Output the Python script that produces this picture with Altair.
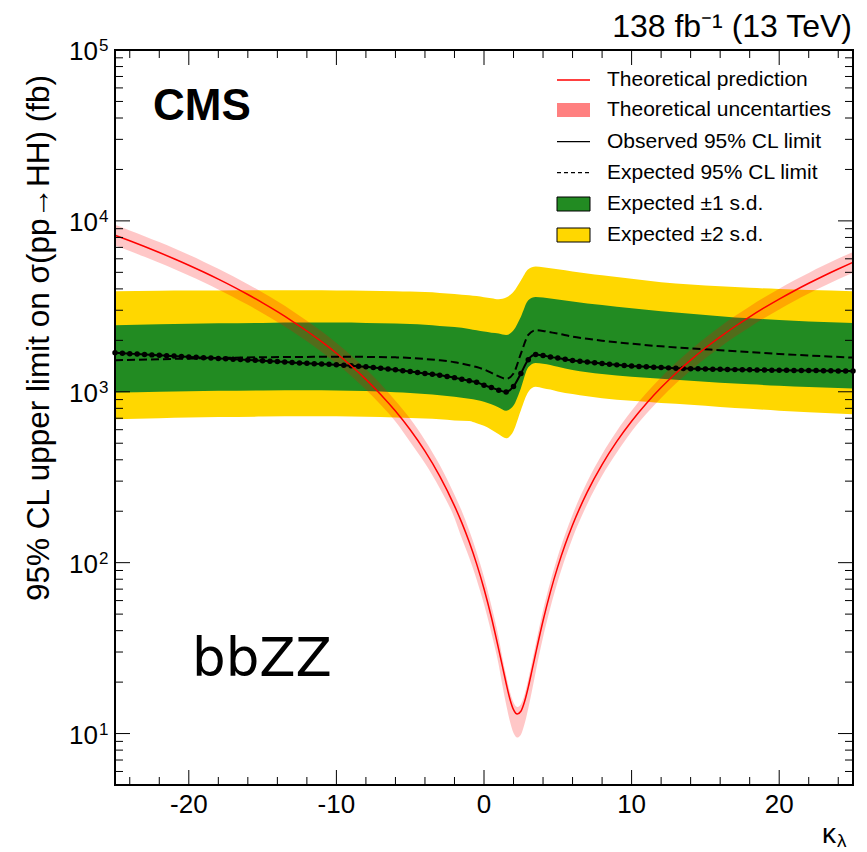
import altair as alt
import pandas as pd

# ---------------- data ----------------
# Theory (ggF HH cross section vs kappa_lambda), fb
theory_kl = [-25, -24, -23, -22, -21, -20, -19, -18, -17, -16, -15, -14, -13, -12, -11, -10,
             -9, -8, -7, -6, -5, -4, -3, -2, -1.5, -1, -0.5, 0, 0.5, 1,
             1.25, 1.5, 1.75, 2, 2.25, 2.5, 2.75, 3, 3.25, 3.5,
             4, 4.5, 5, 5.5, 6, 7, 8, 9, 10, 11, 12, 13, 14, 15, 16, 17, 18, 19, 20,
             21, 22, 23, 24, 25]
theory_xs = [8243, 7651, 7081, 6532, 6006, 5503, 5021, 4561, 4124, 3708, 3315, 2944, 2595, 2268,
             1963, 1680, 1420, 1182, 965, 771, 599, 449, 321, 215, 170.9, 131.9, 98.4, 70.4,
             47.9, 31.0, 24.7, 19.7, 16.0, 13.8, 13.0, 13.5, 15.4, 18.7, 23.4, 29.4,
             45.7, 67.5, 94.8, 127.7, 166.1, 259.5, 374.9, 512.6, 672.3, 854.1, 1058, 1284,
             1532, 1803, 2095, 2410, 2746, 3105, 3486, 3889, 4314, 4762, 5231, 5723]
theory_unc_up = [0.15] * 20 + [0.16] * 4 + [0.17] * 6 + \
    [0.12, 0.11, 0.10, 0.10, 0.10, 0.10, 0.10, 0.11, 0.12, 0.13] + [0.15] * 5 + [0.15] * 19
theory_unc_dn = [0.13] * 20 + [0.15] * 4 + [0.19] * 6 + \
    [0.23, 0.25, 0.26, 0.27, 0.27, 0.27, 0.26, 0.25, 0.24, 0.22] + \
    [0.20, 0.19, 0.18, 0.17, 0.16] + [0.15, 0.14, 0.14, 0.13] + [0.13] * 15

# Expected limit and bands, fb
band_kl = [-25, -22, -20, -18, -15, -12, -10, -8, -6, -5, -4, -3, -2, -1, -0.5, 0, 0.5, 1, 1.5, 2,
           2.5, 3, 3.5, 4, 4.5, 5, 6, 7, 8, 10, 12, 14, 16, 18, 20, 22, 25]
exp_2up = [3880, 3900, 3910, 3920, 3925, 3925, 3920, 3905, 3880, 3860, 3830, 3790, 3740, 3670, 3630,
           3580, 3530, 3480, 3560, 3845, 4480, 5220, 5400, 5350, 5280, 5210, 5060, 4920, 4800, 4580,
           4380, 4250, 4150, 4060, 3990, 3940, 3880]
exp_1up = [2450, 2480, 2500, 2515, 2530, 2540, 2540, 2530, 2510, 2490, 2465, 2430, 2390, 2330, 2290,
           2250, 2215, 2195, 2150, 2290, 2750, 3435, 3590, 3560, 3520, 3470, 3370, 3290, 3220, 3080,
           2960, 2860, 2770, 2690, 2630, 2580, 2530]
exp_central = [1530, 1550, 1565, 1578, 1592, 1600, 1603, 1600, 1590, 1578, 1555, 1528, 1490, 1430,
               1395, 1350, 1290, 1230, 1190, 1280, 1673, 2150, 2290, 2270, 2230, 2190, 2100, 2040,
               1990, 1910, 1845, 1795, 1750, 1705, 1665, 1630, 1585]
exp_1dn = [990, 1000, 1008, 1013, 1018, 1020, 1018, 1010, 995, 985, 970, 955, 935, 910, 895, 875,
           845, 810, 775, 830, 1050, 1390, 1475, 1460, 1435, 1400, 1340, 1300, 1270, 1225, 1190,
           1160, 1130, 1105, 1085, 1065, 1045]
exp_2dn = [690, 700, 706, 711, 716, 719, 718, 714, 707, 702, 697, 690, 680, 675, 655, 632, 600,
           565, 535, 590, 780, 998, 1069, 1050, 1030, 1005, 970, 940, 915, 885, 860, 840, 815, 795,
           775, 760, 740]

# Observed limit (points every 0.5 in kappa_lambda), fb
obs_kl = [-25 + 0.5 * i for i in range(101)]
obs_limit = [1690, 1680, 1671, 1662, 1653, 1644, 1635, 1626, 1617, 1608,
             1600, 1592, 1584, 1576, 1568, 1560, 1552, 1544, 1536, 1528,
             1520, 1511, 1502, 1493, 1484, 1475, 1468, 1461, 1454, 1447,
             1440, 1430, 1420, 1410, 1400, 1387, 1373, 1359, 1345, 1329,
             1313, 1297, 1280, 1265, 1250, 1230, 1210, 1185, 1160, 1136,
             1093, 1059, 1021, 998, 1075, 1280, 1542, 1650, 1628, 1600,
             1574, 1548, 1525, 1508, 1492, 1477, 1462, 1449, 1437, 1426,
             1415, 1407, 1399, 1392, 1385, 1380, 1375, 1370, 1365, 1362,
             1359, 1356, 1353, 1350, 1348, 1346, 1344, 1342, 1340, 1338,
             1336, 1335, 1334, 1333, 1331, 1330, 1328, 1327, 1325, 1324, 1322]

# Axis ticks and labels
x_major = [-20, -10, 0, 10, 20]
x_minor = [-24, -22, -18, -16, -14, -12, -8, -6, -4, -2, 2, 4, 6, 8, 12, 14, 16, 18, 22, 24]
x_labels = ["-20", "-10", "0", "10", "20"]
y_major = [10, 100, 1000, 10000]
y_minor = [m * 10 ** e for e in range(0, 5) for m in range(2, 10) if m * 10 ** e > 5]
y_label_vals = [10, 100, 1000, 10000, 100000]
y_label_exp = ["1", "2", "3", "4", "5"]

legend_labels = ["Theoretical prediction", "Theoretical uncentarties", "Observed 95% CL limit",
                 "Expected 95% CL limit", "Expected \u00b11 s.d.", "Expected \u00b12 s.d."]

# ---------------- chart ----------------
W, H = 738, 735
FONT = "Liberation Sans"
xs = alt.Scale(domain=[-25, 25], nice=False, zero=False)
ys = alt.Scale(type="log", domain=[5, 100000], nice=False)


def X(f):
    return alt.X(f, type="quantitative", scale=xs, axis=None)


def Y(f):
    return alt.Y(f, type="quantitative", scale=ys, axis=None)


band_df = pd.DataFrame({"kl": band_kl, "u2": exp_2up, "u1": exp_1up, "c": exp_central,
                        "d1": exp_1dn, "d2": exp_2dn})
th_df = pd.DataFrame({"kl": theory_kl, "xs": theory_xs,
                      "hi": [v * (1 + u) for v, u in zip(theory_xs, theory_unc_up)],
                      "lo": [v * (1 - d) for v, d in zip(theory_xs, theory_unc_dn)]})
obs_df = pd.DataFrame({"kl": obs_kl, "obs": obs_limit})

layers = []
layers.append(alt.Chart(band_df).mark_area(color="#FFD700", interpolate="monotone")
              .encode(x=X("kl"), y=Y("u2"), y2=alt.Y2("d2")))
layers.append(alt.Chart(band_df).mark_area(color="#228B22", interpolate="monotone")
              .encode(x=X("kl"), y=Y("u1"), y2=alt.Y2("d1")))
layers.append(alt.Chart(th_df).mark_area(color="#ff0000", opacity=0.22, interpolate="monotone")
              .encode(x=X("kl"), y=Y("hi"), y2=alt.Y2("lo")))
layers.append(alt.Chart(band_df).mark_line(color="black", strokeWidth=2, strokeDash=[8, 4],
                                           interpolate="monotone")
              .encode(x=X("kl"), y=Y("c")))
layers.append(alt.Chart(obs_df).mark_line(color="black", strokeWidth=2, interpolate="monotone")
              .encode(x=X("kl"), y=Y("obs")))
layers.append(alt.Chart(obs_df).mark_circle(color="black", size=30, opacity=1)
              .encode(x=X("kl"), y=Y("obs")))
layers.append(alt.Chart(th_df).mark_line(color="#ff0000", strokeWidth=1.5, interpolate="monotone")
              .encode(x=X("kl"), y=Y("xs")))

# ticks (inside, on all four sides)
MAJ, MIN = 15, 8
xmaj_df = pd.DataFrame({"v": x_major})
xmin_df = pd.DataFrame({"v": x_minor})
ymaj_df = pd.DataFrame({"v": y_major})
ymin_df = pd.DataFrame({"v": y_minor})
for df, L in ((xmaj_df, MAJ), (xmin_df, MIN)):
    layers.append(alt.Chart(df).mark_rule(color="black", strokeWidth=1)
                  .encode(x=X("v"), y=alt.value(H), y2=alt.value(H - L)))
    layers.append(alt.Chart(df).mark_rule(color="black", strokeWidth=1)
                  .encode(x=X("v"), y=alt.value(0), y2=alt.value(L)))
for df, L in ((ymaj_df, MAJ), (ymin_df, MIN)):
    layers.append(alt.Chart(df).mark_rule(color="black", strokeWidth=1)
                  .encode(y=Y("v"), x=alt.value(0), x2=alt.value(L)))
    layers.append(alt.Chart(df).mark_rule(color="black", strokeWidth=1)
                  .encode(y=Y("v"), x=alt.value(W), x2=alt.value(W - L)))

# tick labels
xl_df = pd.DataFrame({"v": x_major, "t": x_labels})
layers.append(alt.Chart(xl_df).mark_text(font=FONT, fontSize=26, align="center",
                                         baseline="alphabetic", color="black")
              .encode(x=X("v"), y=alt.value(H + 28), text="t:N"))
yl_df = pd.DataFrame({"v": y_label_vals, "e": y_label_exp, "b": ["10"] * 5})
layers.append(alt.Chart(yl_df).mark_text(font=FONT, fontSize=26, align="right",
                                         baseline="alphabetic", color="black", dy=10)
              .encode(y=Y("v"), x=alt.value(-17), text="b:N"))
layers.append(alt.Chart(yl_df).mark_text(font=FONT, fontSize=17, align="left",
                                         baseline="alphabetic", color="black", dy=1)
              .encode(y=Y("v"), x=alt.value(-16), text="e:N"))

one = pd.DataFrame({"a": [0]})


def txt(s, x, y, **kw):
    return alt.Chart(pd.DataFrame({"t": [s]})).mark_text(**kw).encode(
        x=alt.value(x), y=alt.value(y), text="t:N")


# titles / annotations
layers.append(txt("95% CL upper limit on \u03c3(pp\u2192HH) (fb)", -66, 25, font=FONT, fontSize=31.5,
                  angle=270, align="right", baseline="alphabetic", color="black"))
layers.append(txt("\u03ba", 721, 793, font=FONT, fontSize=28, align="right",
                  baseline="alphabetic", color="black"))
layers.append(txt("\u03bb", 722, 797, font=FONT, fontSize=19, align="left",
                  baseline="alphabetic", color="black"))
layers.append(txt("138 fb\u207b\u00b9 (13 TeV)", 737, -13, font=FONT, fontSize=32, align="right",
                  baseline="alphabetic", color="black"))
layers.append(txt("CMS", 38, 70, font=FONT, fontSize=44, fontWeight="bold", align="left",
                  baseline="alphabetic", color="black"))
layers.append(txt("bbZZ", 77, 626, font="DejaVu Sans", fontSize=53, align="left",
                  baseline="alphabetic", color="black"))

# legend
LX0, LX1, LT = 442, 475, 492
rows = [30, 60, 91.7, 122.7, 154, 185]
layers.append(alt.Chart(one).mark_rule(color="#ff0000", strokeWidth=1.5)
              .encode(x=alt.value(LX0), x2=alt.value(LX1), y=alt.value(rows[0])))
layers.append(alt.Chart(one).mark_rect(color="#ff8080")
              .encode(x=alt.value(LX0), x2=alt.value(LX1), y=alt.value(rows[1] - 7),
                      y2=alt.value(rows[1] + 7)))
layers.append(alt.Chart(one).mark_rule(color="black", strokeWidth=1.2)
              .encode(x=alt.value(LX0), x2=alt.value(LX1), y=alt.value(rows[2])))
layers.append(alt.Chart(one).mark_rule(color="black", strokeWidth=1.2, strokeDash=[4, 3])
              .encode(x=alt.value(LX0), x2=alt.value(LX1), y=alt.value(rows[3])))
layers.append(alt.Chart(one).mark_rect(fill="#228B22", stroke="black", strokeWidth=1)
              .encode(x=alt.value(LX0), x2=alt.value(LX1), y=alt.value(rows[4] - 7),
                      y2=alt.value(rows[4] + 7)))
layers.append(alt.Chart(one).mark_rect(fill="#FFD700", stroke="black", strokeWidth=1)
              .encode(x=alt.value(LX0), x2=alt.value(LX1), y=alt.value(rows[5] - 7),
                      y2=alt.value(rows[5] + 7)))
for lab, ry in zip(legend_labels, rows):
    layers.append(txt(lab, LT, ry, font=FONT, fontSize=21, align="left", baseline="middle",
                      color="black"))

# frame
layers.append(alt.Chart(one).mark_rect(fillOpacity=0, stroke="black", strokeWidth=2)
              .encode(x=alt.value(0), x2=alt.value(W), y=alt.value(0), y2=alt.value(H)))

chart = alt.layer(*layers).properties(
    width=W, height=H,
    autosize=alt.AutoSizeParams(type="none"),
    padding={"left": 115, "top": 50, "right": 14, "bottom": 67},
    background="white",
).configure_view(strokeWidth=0)

chart.save("out.html", embed_options={"renderer": "svg", "actions": False})
